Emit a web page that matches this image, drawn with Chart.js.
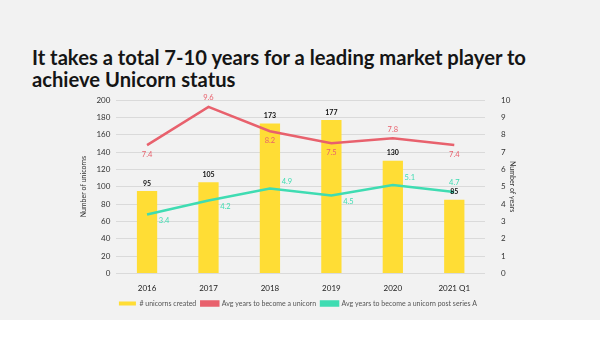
<!DOCTYPE html>
<html>
<head>
<meta charset="utf-8">
<script src="https://cdn.jsdelivr.net/npm/chart.js@4/dist/chart.umd.min.js"></script>
<style>
  html, body { margin: 0; padding: 0; background: #fff; }
  #bg { position: absolute; left: 0; top: 0; width: 600px; height: 320px; background: #f2f2f2; }
  h1 {
    position: absolute; left: 32px; top: 46px; margin: 0;
    font-family: Lato, sans-serif; font-weight: 700; font-size: 20.2px; line-height: 22px;
    color: #151515;
  }
  #wrap { position: absolute; left: 0; top: 0; width: 600px; height: 337px; }
</style>
</head>
<body>
<div id="bg"></div>
<h1>It takes a total 7-10 years for a leading market player to<br>achieve Unicorn status</h1>
<div id="wrap"><canvas id="myChart"></canvas></div>
<script>
// CHART DATA
const years = ['2016', '2017', '2018', '2019', '2020', '2021 Q1'];
const unicornsCreated = [95, 105, 173, 177, 130, 85];
const avgYears = [7.4, 9.6, 8.2, 7.5, 7.8, 7.4];
const avgYearsPostA = [3.4, 4.2, 4.9, 4.5, 5.1, 4.7];

const yellow = '#ffdd35';
const red = '#e8616d';
const green = '#3fdcb2';

// where each value label sits: a = above, b = below, ra / rb = right and above / below
const redLabelPos = ['b', 'a', 'b', 'b', 'a', 'b'];
const greenLabelPos = ['rb', 'rb', 'ra', 'rb', 'ra', 'a'];

Chart.defaults.font.family = 'Lato, sans-serif';
Chart.defaults.color = '#333';

// draws the value labels next to bars and line points
const valueLabels = {
    id: 'valueLabels',
    afterDatasetsDraw(chart) {
        const ctx = chart.ctx;
        chart.data.datasets.forEach(function (ds, i) {
            const meta = chart.getDatasetMeta(i);
            meta.data.forEach(function (el, j) {
                let text = ds.type === 'bar' ? String(ds.data[j]) : ds.data[j].toFixed(1);
                let x = el.x, y = el.y;
                ctx.save();
                ctx.textAlign = 'center';
                if (ds.type === 'bar') {
                    ctx.font = 'bold 7px Lato, sans-serif';
                    ctx.fillStyle = '#111';
                    ctx.textBaseline = 'bottom';
                    y -= 4;
                } else {
                    ctx.font = '7.5px Lato, sans-serif';
                    ctx.fillStyle = ds.borderColor;
                    ctx.textBaseline = 'middle';
                    const pos = ds.labelPos[j];
                    if (pos === 'a') y -= 9;
                    if (pos === 'b') y += 9;
                    if (pos === 'ra') { x += 17; y -= 7; }
                    if (pos === 'rb') { x += 17; y += 6; }
                }
                ctx.fillText(text, x, y);
                ctx.restore();
            });
        });
    }
};

let ctx = document.getElementById('myChart');
let chart = new Chart(ctx, {
    type: 'bar',
    data: {
        labels: years,
        datasets: [
            {
                type: 'bar',
                label: '# unicorns created',
                data: unicornsCreated,
                backgroundColor: yellow,
                yAxisID: 'y',
                categoryPercentage: 1,
                barPercentage: 0.33,
                order: 2
            },
            {
                type: 'line',
                label: 'Avg years to become a unicorn',
                data: avgYears,
                borderColor: red,
                backgroundColor: red,
                borderWidth: 2.5,
                pointRadius: 0,
                yAxisID: 'y1',
                labelPos: redLabelPos,
                order: 1
            },
            {
                type: 'line',
                label: 'Avg years to become a unicorn post series A',
                data: avgYearsPostA,
                borderColor: green,
                backgroundColor: green,
                borderWidth: 2.5,
                pointRadius: 0,
                yAxisID: 'y1',
                labelPos: greenLabelPos,
                order: 0
            }
        ]
    },
    options: {
        responsive: true,
        maintainAspectRatio: false,
        animation: false,
        layout: { padding: { top: 100, left: 78, right: 82, bottom: 20 } },
        plugins: {
            legend: {
                position: 'bottom',
                labels: {
                    boxWidth: 17,
                    boxHeight: 4,
                    padding: 5,
                    font: { size: 7 },
                    color: '#555',
                    sort: function (a, b) { return a.datasetIndex - b.datasetIndex; }
                }
            },
            tooltip: { enabled: false }
        },
        scales: {
            x: {
                grid: { display: false },
                border: { display: false },
                ticks: { font: { size: 8 }, color: '#222', padding: 2 }
            },
            y: {
                position: 'left',
                min: 0,
                max: 200,
                ticks: { stepSize: 20, font: { size: 8 }, color: '#333', padding: 6 },
                grid: { color: '#dadada', drawTicks: false },
                border: { display: false },
                title: { display: true, text: 'Number of unicorns', font: { size: 7 }, color: '#333', padding: 2 }
            },
            y1: {
                position: 'right',
                min: 0,
                max: 10,
                afterFit: function (scale) { scale.width = 33; },
                ticks: { stepSize: 1, font: { size: 8 }, color: '#333', padding: 8 },
                grid: { display: false },
                border: { display: false },
                title: { display: true, text: 'Number of years', font: { size: 7 }, color: '#333', padding: 2 }
            }
        }
    },
    plugins: [valueLabels]
});
</script>
</body>
</html>
